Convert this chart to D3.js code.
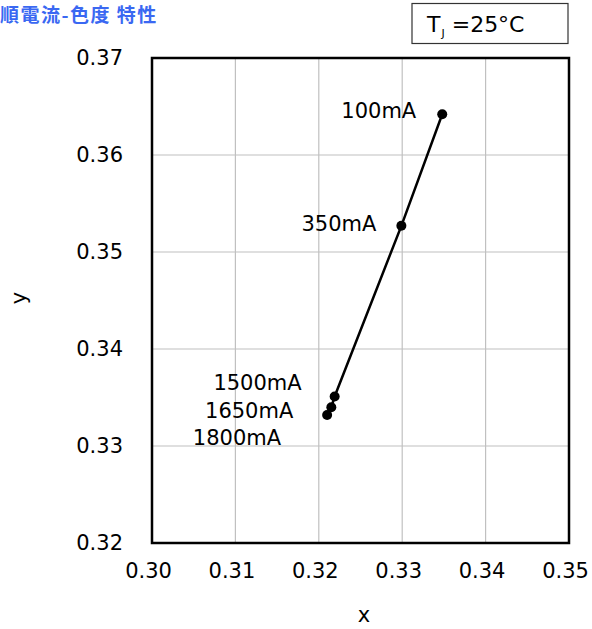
<!DOCTYPE html>
<html>
<head>
<meta charset="utf-8">
<script src="https://cdn.jsdelivr.net/npm/d3@7"></script>
<style>
  body { margin: 0; background: #fff; }
  svg { display: block; }
</style>
</head>
<body>
<div class="container"></div>
<script>
// data
var currents = ['100mA', '350mA', '1500mA', '1650mA', '1800mA'];
var chromaX = [0.3348, 0.3299, 0.3219, 0.3215, 0.3210];
var chromaY = [0.3642, 0.3527, 0.3351, 0.3340, 0.3332];
var xTicks = [0.30, 0.31, 0.32, 0.33, 0.34, 0.35];
var yTicks = [0.32, 0.33, 0.34, 0.35, 0.36, 0.37];

// hand placed label offsets (px) relative to each point
var labelOffsets = [[-26, -2], [-25, -1], [-33, -13], [-38, 5], [-46, 24]];

var W = 592, H = 629;
var font = '"DejaVu Sans", Verdana, sans-serif';

var svg = d3.select('.container').append('svg')
  .attr('width', W)
  .attr('height', H);

var x = d3.scaleLinear().domain([0.30, 0.35]).range([152, 569]);
var y = d3.scaleLinear().domain([0.32, 0.37]).range([543, 58]);

// grid
svg.append('g').selectAll('line').data(xTicks.slice(1, -1)).enter().append('line')
  .attr('x1', function(d){ return x(d); })
  .attr('x2', function(d){ return x(d); })
  .attr('y1', y(0.37)).attr('y2', y(0.32))
  .style('stroke', '#c0c0c0').style('stroke-width', 1.2);

svg.append('g').selectAll('line').data(yTicks.slice(1, -1)).enter().append('line')
  .attr('y1', function(d){ return y(d); })
  .attr('y2', function(d){ return y(d); })
  .attr('x1', x(0.30)).attr('x2', x(0.35))
  .style('stroke', '#c0c0c0').style('stroke-width', 1.2);

// frame
svg.append('rect')
  .attr('x', x(0.30)).attr('y', y(0.37))
  .attr('width', x(0.35) - x(0.30))
  .attr('height', y(0.32) - y(0.37))
  .style('fill', 'none').style('stroke', '#000').style('stroke-width', 2.5);

// axes (labels only, frame drawn above)
var xAxis = svg.append('g')
  .attr('transform', 'translate(-4,' + y(0.32) + ')')
  .call(d3.axisBottom(x).tickValues(xTicks).tickSize(0).tickPadding(20).tickFormat(d3.format('.2f')));
var yAxis = svg.append('g')
  .attr('transform', 'translate(' + x(0.30) + ',0)')
  .call(d3.axisLeft(y).tickValues(yTicks).tickSize(0).tickPadding(29).tickFormat(d3.format('.2f')));
[xAxis, yAxis].forEach(function(a){
  a.select('.domain').remove();
  a.selectAll('text').style('font-family', font).style('font-size', '21px').style('fill', '#000');
});

svg.append('text')
  .attr('x', 364).attr('y', 616)
  .attr('text-anchor', 'middle').attr('dominant-baseline', 'middle')
  .style('font-family', font).style('font-size', '21px')
  .text('x');

svg.append('text')
  .attr('transform', 'translate(20,298) rotate(-90)')
  .attr('text-anchor', 'middle').attr('dominant-baseline', 'middle')
  .style('font-family', font).style('font-size', '21px')
  .text('y');

// series
var pts = currents.map(function(c, i){
  return { label: c, x: chromaX[i], y: chromaY[i], off: labelOffsets[i] };
});

var line = d3.line()
  .x(function(d){ return x(d.x); })
  .y(function(d){ return y(d.y); });

svg.append('path')
  .datum(pts)
  .attr('d', line)
  .style('fill', 'none').style('stroke', '#000').style('stroke-width', 2.5);

var node = svg.selectAll('.pt').data(pts).enter().append('g').attr('class', 'pt');

node.append('circle')
  .attr('cx', function(d){ return x(d.x); })
  .attr('cy', function(d){ return y(d.y); })
  .attr('r', 5)
  .style('fill', '#000');

node.append('text')
  .attr('x', function(d){ return x(d.x) + d.off[0]; })
  .attr('y', function(d){ return y(d.y) + d.off[1]; })
  .attr('text-anchor', 'end').attr('dominant-baseline', 'middle')
  .style('font-family', font).style('font-size', '21px')
  .text(function(d){ return d.label; });

// title
svg.append('text')
  .attr('x', 0).attr('y', 22)
  .style('font-family', '"Noto Sans CJK JP", sans-serif')
  .style('font-size', '19px').style('font-weight', 'bold')
  .style('letter-spacing', '1.5px')
  .style('fill', '#3a68f2')
  .text('順電流-色度 特性');

// condition box
svg.append('rect')
  .attr('x', 412).attr('y', 3.5)
  .attr('width', 156).attr('height', 40)
  .style('fill', '#fff').style('stroke', '#333').style('stroke-width', 1.2);

var tj = svg.append('text')
  .attr('x', 427).attr('y', 32)
  .style('font-family', font).style('font-size', '22px');
tj.append('tspan').text('T');
tj.append('tspan').attr('dy', 5).attr('dx', 1).style('font-size', '11px').text('J');
tj.append('tspan').attr('dy', -5).text(' =25°C');
</script>
</body>
</html>
